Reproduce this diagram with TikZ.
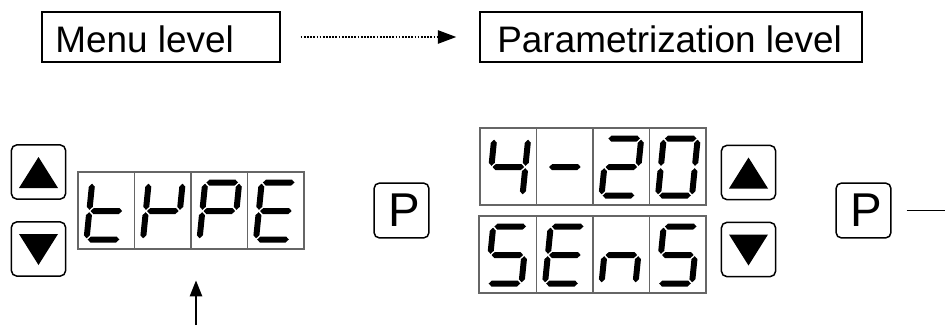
\documentclass[tikz,border=0pt]{standalone}
\usepackage{fontspec}
\setmainfont{Liberation Sans}
\usetikzlibrary{arrows.meta,fit}

% one bar of a seven-segment glyph: horizontal (x0, x1, y) and vertical (x, y0, y1)
\newcommand\hseg[3]{\fill ({#1+1.2},{#3}) -- ({#1+4.2},{#3-3}) -- ({#2-4.2},{#3-3}) -- ({#2-1.2},{#3}) -- ({#2-4.2},{#3+3}) -- ({#1+4.2},{#3+3}) -- cycle;}
\newcommand\vseg[3]{\fill ({#1},{#2+1.2}) -- ({#1+3},{#2+4.2}) -- ({#1+3},{#3-4.2}) -- ({#1},{#3-1.2}) -- ({#1-3},{#3-4.2}) -- ({#1-3},{#2+4.2}) -- cycle;}
% the seven segments a..g
\newcommand\dsega{\hseg{0}{34}{-57}}
\newcommand\dsegb{\vseg{34}{-57}{-28.5}}
\newcommand\dsegc{\vseg{34}{-28.5}{0}}
\newcommand\dsegd{\hseg{0}{34}{0}}
\newcommand\dsege{\vseg{0}{-28.5}{0}}
\newcommand\dsegf{\vseg{0}{-57}{-28.5}}
\newcommand\dsegg{\hseg{0}{34}{-28.5}}
% a slanted glyph in the cell whose top left corner is (#1,#2)
\newcommand\digit[3]{%
  \begin{scope}[shift={(#1+8.5,#2+67.5)},xslant=0.1]
    \foreach \s in {#3}{\csname dseg\s\endcsname}
  \end{scope}}

\begin{document}
\begin{tikzpicture}[x=0.02cm,y=-0.02cm,
  levelbox/.style={draw, line width=0.95pt, inner sep=0pt},
  leveltext/.style={anchor=base west, inner sep=0pt, font=\fontsize{21}{25}\selectfont},
  dispframe/.style={draw=black!60, line width=0.6pt, inner sep=0pt},
  cellline/.style={draw=black!60, line width=0.6pt},
  keybox/.style={draw, line width=0.85pt, rounded corners=3pt, minimum size=30.8pt, inner sep=0pt},
  pkey/.style={keybox, minimum size=31.2pt},
  pletter/.style={inner sep=0pt, font=\fontsize{27}{30}\selectfont},
  flow/.style={line width=0.85pt, -{Triangle[length=9pt,width=7pt]}},
]
\useasboundingbox (0,0) rectangle (945,325);

% level headings
\node[levelbox, fit={(42,12)(280,62)}] (menu) {};
\node[leveltext] (menutxt) at (55,52) {Menu level};
\node[levelbox, fit={(480,12)(862,62)}] (param) {};
\node[leveltext] (paramtxt) at (497,52) {Parametrization level};
\draw[line width=1.1pt, dash pattern=on 1pt off 0.8pt, -{Triangle[length=10.5pt,width=7.5pt]},
      shorten <=11.3pt, shorten >=13pt] (menu) -- (param);

% left keys
\node[keybox] (upL) at (38.5,172) {};
\fill ([shift={(0,-15)}]upL.center) -- ([shift={(-19.5,16)}]upL.center) -- ([shift={(19.5,16)}]upL.center) -- cycle;
\node[keybox] (downL) at (38.5,249) {};
\fill ([shift={(0,16)}]downL.center) -- ([shift={(-19.5,-15)}]downL.center) -- ([shift={(19.5,-15)}]downL.center) -- cycle;

% menu display
\node[dispframe, fit={(78,172)(304,249)}] (dispA) {};
\foreach \x in {134.5,191,247.5} \draw[cellline] (\x,172) -- (\x,249);
\digit{78}{172}{d,e,f,g}
\digit{134.5}{172}{b,e,f,g}
\digit{191}{172}{a,b,e,f,g}
\digit{247.5}{172}{a,d,e,f,g}

% pointer under the display
\coordinate (foot) at (196,325);
\draw[flow, shorten >=17.6pt] (foot) -- (foot |- dispA.south);

% first P key
\node[pkey] (pL) at (401.5,210.5) {};
\node[pletter] (pLtxt) at ([shift={(3,0)}]pL.center) {P};

% parameter displays
\node[dispframe, fit={(480,128)(706,205)}] (dispB) {};
\foreach \x in {536.5,593,649.5} \draw[cellline] (\x,128) -- (\x,205);
\digit{480}{128}{b,c,f,g}
\digit{536.5}{128}{g}
\digit{593}{128}{a,b,d,e,g}
\digit{649.5}{128}{a,b,c,d,e,f}

\node[dispframe, fit={(479,216)(706,293)}] (dispC) {};
\foreach \x in {536.5,593,649.5} \draw[cellline] (\x,216) -- (\x,293);
\digit{479}{216}{a,c,d,f,g}
\digit{536.5}{216}{a,d,e,f,g}
\digit{593}{216}{c,e,g}
\digit{649.5}{216}{a,c,d,f,g}

% right keys
\node[keybox] (upR) at (748.5,172.5) {};
\fill ([shift={(0,-15)}]upR.center) -- ([shift={(-19.5,16)}]upR.center) -- ([shift={(19.5,16)}]upR.center) -- cycle;
\node[keybox] (downR) at (748.5,249.5) {};
\fill ([shift={(0,16)}]downR.center) -- ([shift={(-19.5,-15)}]downR.center) -- ([shift={(19.5,-15)}]downR.center) -- cycle;

% second P key and its outgoing line
\node[pkey] (pR) at (863.5,210.5) {};
\node[pletter] (pRtxt) at ([shift={(3,0)}]pR.center) {P};
\coordinate (exit) at (945,210.5);
\draw[line width=0.85pt, shorten <=8.5pt] (pR) -- (exit);
\end{tikzpicture}
\end{document}
